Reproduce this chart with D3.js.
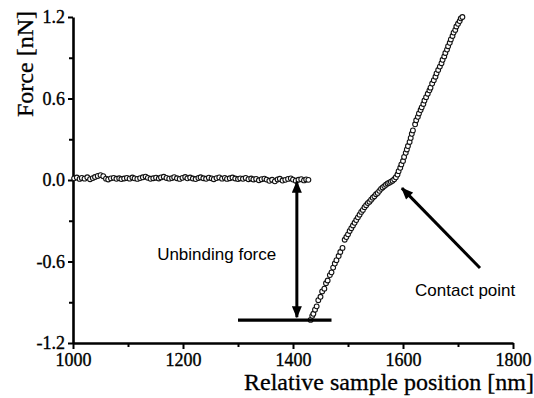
<!DOCTYPE html>
<html>
<head>
<meta charset="utf-8">
<script src="https://cdn.jsdelivr.net/npm/d3@7"></script>
<style>
  body { margin: 0; background: #fff; }
  svg { display: block; }
</style>
</head>
<body>
<div id="chart"></div>
<script>
// x ticks [nm] and y ticks [nN]
const xTicks = [1000, 1200, 1400, 1600, 1800];
const xMinor = [1100, 1300, 1500, 1700];
const yTicks = [1.2, 0.6, 0.0, -0.6, -1.2];
const yMinor = [0.9, 0.3, -0.3, -0.9];

// retract baseline [position, force]
const baseline = [
  [1002, 0.012], [1007, 0.018], [1012, 0.008], [1016, 0.015], [1021, 0.010], [1026, 0.020],
  [1031, 0.006], [1036, 0.014], [1040, 0.022], [1045, 0.030], [1050, 0.036], [1055, 0.028],
  [1060, 0.010], [1064, 0.004], [1069, 0.012], [1074, 0.016], [1079, 0.009], [1084, 0.013],
  [1088, 0.007], [1093, 0.011], [1098, 0.015], [1103, 0.010], [1108, 0.018], [1112, 0.012],
  [1117, 0.008], [1122, 0.014], [1127, 0.020], [1132, 0.025], [1136, 0.016], [1141, 0.009],
  [1146, 0.013], [1151, 0.017], [1156, 0.011], [1160, 0.019], [1165, 0.024], [1170, 0.015],
  [1175, 0.010], [1180, 0.014], [1184, 0.021], [1189, 0.013], [1194, 0.008], [1199, 0.016],
  [1204, 0.022], [1208, 0.012], [1213, 0.018], [1218, 0.011], [1223, 0.007], [1228, 0.015],
  [1232, 0.020], [1237, 0.013], [1242, 0.009], [1247, 0.017], [1252, 0.012], [1256, 0.006],
  [1261, 0.014], [1266, 0.019], [1271, 0.010], [1276, 0.016], [1280, 0.008], [1285, 0.013],
  [1290, 0.018], [1295, 0.011], [1300, 0.007], [1304, 0.012], [1309, 0.009], [1314, 0.015],
  [1319, 0.006], [1324, 0.011], [1328, 0.004], [1333, 0.008], [1338, -0.002], [1343, 0.006],
  [1348, 0.010], [1352, 0.003], [1357, -0.006], [1362, 0.002], [1367, -0.010], [1372, 0.004],
  [1376, 0.009], [1381, -0.004], [1386, 0.001], [1391, 0.008], [1396, 0.012], [1400, 0.003],
  [1405, -0.005], [1410, 0.002], [1415, 0.006], [1420, -0.003], [1424, 0.004], [1428, 0.001]
];

// approach curve [position, force]
const approach = [
  [1432, -1.03], [1435, -1.00], [1437, -0.985], [1440, -0.955], [1443, -0.93], [1446, -0.885],
  [1450, -0.86], [1453, -0.82], [1457, -0.80], [1460, -0.76], [1463, -0.74], [1467, -0.70],
  [1470, -0.68], [1473, -0.645], [1476, -0.615], [1479, -0.59], [1483, -0.56], [1486, -0.53],
  [1490, -0.50], [1494, -0.44], [1497, -0.42], [1500, -0.40], [1503, -0.375], [1506, -0.355],
  [1509, -0.335], [1512, -0.315], [1515, -0.295], [1518, -0.275], [1521, -0.255], [1524, -0.235],
  [1527, -0.22], [1530, -0.20], [1533, -0.185], [1536, -0.17], [1539, -0.16], [1542, -0.145],
  [1545, -0.13], [1548, -0.12], [1551, -0.105], [1554, -0.095], [1557, -0.08], [1560, -0.065],
  [1563, -0.055], [1566, -0.045], [1569, -0.035], [1572, -0.025], [1575, -0.020], [1578, -0.012],
  [1581, -0.005], [1584, 0.005], [1587, 0.02], [1590, 0.04], [1592, 0.065], [1595, 0.09],
  [1597, 0.115], [1600, 0.14], [1602, 0.17], [1605, 0.20], [1607, 0.225], [1609, 0.25],
  [1612, 0.28], [1614, 0.31], [1616, 0.34], [1618, 0.365], [1622, 0.41], [1624, 0.44],
  [1627, 0.465], [1629, 0.49], [1632, 0.515], [1634, 0.535], [1637, 0.56], [1639, 0.585],
  [1642, 0.61], [1645, 0.635], [1648, 0.66], [1650, 0.68], [1653, 0.71], [1656, 0.735],
  [1659, 0.76], [1661, 0.785], [1664, 0.81], [1667, 0.835], [1670, 0.86], [1672, 0.885],
  [1675, 0.91], [1677, 0.935], [1680, 0.96], [1682, 0.985], [1685, 1.01], [1687, 1.035],
  [1690, 1.06], [1692, 1.085], [1695, 1.105], [1697, 1.13], [1700, 1.15], [1703, 1.17],
  [1705, 1.19], [1708, 1.20]
];

// annotations (data coords)
const unbindArrow = { x: 1407, top: -0.012, bottom: -1.01 };
const unbindBar = { x0: 1300, x1: 1470, y: -1.031 };
const contactArrow = { x0: 1740, y0: -0.648, x1: 1598, y1: -0.06 };
const labels = [
  { text: 'Unbinding force', x: 1153, y: -0.59 },
  { text: 'Contact point', x: 1622, y: -0.854 }
];

const width = 534, height = 398;
const x = d3.scaleLinear().domain([1000, 1800]).range([73, 513]);
const y = d3.scaleLinear().domain([-1.2, 1.2]).range([343, 17]);

const svg = d3.select('#chart').append('svg')
  .attr('width', width)
  .attr('height', height);

const serif = '"Liberation Serif", "Times New Roman", serif';
const sans = '"Liberation Sans", Arial, sans-serif';
// plain hyphen for negatives, like the original
const fmtY = d => d.toFixed(1);

// minor ticks
svg.append('g')
  .attr('transform', `translate(0,${y(-1.2)})`)
  .call(d3.axisBottom(x).tickValues(xMinor).tickSize(4).tickFormat(''))
  .call(g => g.select('.domain').remove())
  .selectAll('line').attr('stroke-width', 2);
svg.append('g')
  .attr('transform', `translate(${x(1000)},0)`)
  .call(d3.axisLeft(y).tickValues(yMinor).tickSize(4).tickFormat(''))
  .call(g => g.select('.domain').remove())
  .selectAll('line').attr('stroke-width', 2);

// major axes
const xAxis = svg.append('g')
  .attr('transform', `translate(0,${y(-1.2)})`)
  .call(d3.axisBottom(x).tickValues(xTicks).tickSize(6).tickSizeOuter(0).tickPadding(4).tickFormat(d3.format('d')));
const yAxis = svg.append('g')
  .attr('transform', `translate(${x(1000)},0)`)
  .call(d3.axisLeft(y).tickValues(yTicks).tickSize(5).tickSizeOuter(0).tickPadding(3).tickFormat(fmtY));

[xAxis, yAxis].forEach(g => {
  g.select('.domain').attr('stroke-width', 2.6);
  g.selectAll('.tick line').attr('stroke-width', 2);
  g.selectAll('.tick text')
    .attr('font-family', serif)
    .attr('font-size', 18)
    .attr('fill', '#000')
    .attr('stroke', '#000')
    .attr('stroke-width', 0.35);
});

// axis titles
svg.append('text')
  .attr('x', 389).attr('y', 390)
  .attr('text-anchor', 'middle')
  .attr('font-family', serif).attr('font-size', 24)
  .attr('stroke', '#000').attr('stroke-width', 0.3)
  .text('Relative sample position [nm]');
svg.append('text')
  .attr('transform', 'translate(33,64) rotate(-90)')
  .attr('text-anchor', 'middle')
  .attr('font-family', serif).attr('font-size', 24)
  .attr('stroke', '#000').attr('stroke-width', 0.3)
  .text('Force [nN]');

// arrow heads
const defs = svg.append('defs');
defs.append('marker')
  .attr('id', 'head')
  .attr('viewBox', '0 0 12 10')
  .attr('refX', 11).attr('refY', 5)
  .attr('markerUnits', 'userSpaceOnUse')
  .attr('markerWidth', 13).attr('markerHeight', 10)
  .attr('orient', 'auto-start-reverse')
  .append('path').attr('d', 'M0,0 L12,5 L0,10 Z').attr('fill', '#000');

// data points
const pts = baseline.concat(approach);
svg.append('g')
  .selectAll('circle')
  .data(pts)
  .join('circle')
  .attr('cx', d => x(d[0]))
  .attr('cy', d => y(d[1]))
  .attr('r', 2.4)
  .attr('fill', '#fff')
  .attr('stroke', '#111')
  .attr('stroke-width', 1.1);

// unbinding force annotation
svg.append('line')
  .attr('x1', x(unbindBar.x0)).attr('x2', x(unbindBar.x1))
  .attr('y1', y(unbindBar.y)).attr('y2', y(unbindBar.y))
  .attr('stroke', '#000').attr('stroke-width', 3.2);
svg.append('line')
  .attr('x1', x(unbindArrow.x)).attr('x2', x(unbindArrow.x))
  .attr('y1', y(unbindArrow.top)).attr('y2', y(unbindArrow.bottom))
  .attr('stroke', '#000').attr('stroke-width', 3)
  .attr('marker-start', 'url(#head)')
  .attr('marker-end', 'url(#head)');

// contact point arrow
svg.append('line')
  .attr('x1', x(contactArrow.x0)).attr('y1', y(contactArrow.y0))
  .attr('x2', x(contactArrow.x1)).attr('y2', y(contactArrow.y1))
  .attr('stroke', '#000').attr('stroke-width', 3)
  .attr('marker-end', 'url(#head)');

svg.append('g')
  .selectAll('text')
  .data(labels)
  .join('text')
  .attr('x', d => x(d.x))
  .attr('y', d => y(d.y))
  .attr('font-family', sans)
  .attr('font-size', 17)
  .text(d => d.text);
</script>
</body>
</html>
